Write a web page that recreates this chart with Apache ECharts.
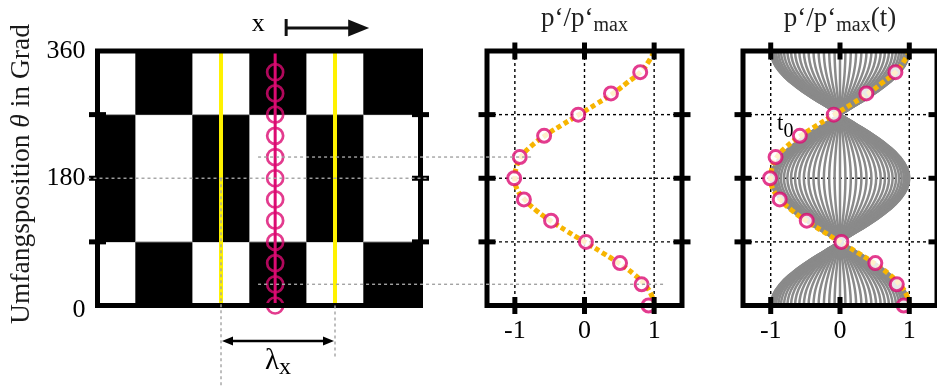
<!DOCTYPE html>
<html>
<head>
<meta charset="utf-8">
<script src="https://cdn.jsdelivr.net/npm/echarts@6/dist/echarts.min.js"></script>
<style>
  html, body { margin: 0; padding: 0; background: #fff; }
  #chart { width: 937px; height: 387px; }
</style>
</head>
<body>
<div id="chart"></div>
<script>
// ---- data -------------------------------------------------------------
// circumferential sensor positions (degrees)
const sensorTheta = [0, 30, 60, 90, 120, 150, 180, 210, 240, 270, 300, 330];
// measured normalized pressure p'/p'max at the sensors
const sensorPressure = [0.92, 0.82, 0.51, 0.02, -0.48, -0.87, -1.01, -0.93, -0.58, -0.09, 0.38, 0.80];
// fitted mode shape (every 15 degrees)
const fitTheta = [0, 15, 30, 45, 60, 75, 90, 105, 120, 135, 150, 165, 180, 195, 210, 225, 240, 255, 270, 285, 300, 315, 330, 345, 360];
const fitPressure = [1.0, 0.96, 0.86, 0.70, 0.49, 0.25, 0.0, -0.25, -0.49, -0.70, -0.86, -0.97, -1.0, -0.98, -0.91, -0.77, -0.57, -0.33, -0.08, 0.17, 0.41, 0.61, 0.80, 0.92, 1.0];
// standing-wave shape of unit amplitude (every 15 degrees)
const shapePressure = [1.0, 0.966, 0.866, 0.707, 0.5, 0.259, 0.0, -0.259, -0.5, -0.707, -0.866, -0.966, -1.0, -0.966, -0.866, -0.707, -0.5, -0.259, 0.0, 0.259, 0.5, 0.707, 0.866, 0.966, 1.0];
// instantaneous amplitudes of the snapshots over half a period
const snapshotAmplitude = [1.000, 0.997, 0.988, 0.972, 0.951, 0.924, 0.891, 0.853, 0.809, 0.760, 0.707, 0.649, 0.588, 0.522, 0.454, 0.383, 0.309, 0.233, 0.156, 0.078, 0.000,
  -0.078, -0.156, -0.233, -0.309, -0.383, -0.454, -0.522, -0.588, -0.649, -0.707, -0.760, -0.809, -0.853, -0.891, -0.924, -0.951, -0.972, -0.988, -0.997, -1.000];
// sign pattern of the pressure field: column edges in x, row edges in theta
const cellEdgesX = [-0.667, 0, 1, 2, 3, 4, 5];
const cellEdgesTheta = [0, 90, 270, 360];
const cellPositive = [
  [1, 0, 1, 0, 1, 0],
  [0, 1, 0, 1, 0, 1],
  [1, 0, 1, 0, 1, 0]
];
// axial position of the sensor row, and the two neighbouring nodal lines
const sensorLineX = 2.45;
const nodeLinesX = [1.5, 3.5];
// projection lines from the sensor row to the profile
const linkTheta = [210, 30];
const linkEndPressure = [-0.75, 1.17];
// axis ticks and labels
const thetaTicks = [90, 180, 270];
const thetaLabels = [0, 180, 360];
const pressureTicks = [-1, 0, 1];

// ---- styling ----------------------------------------------------------
const SERIF = "'Liberation Serif', 'DejaVu Serif', serif";
const MAGENTA = '#dc0a72';
const ORANGE = '#f7b500';
const GREY = '#8a8a8a';
const LINK = '#a3a3a3';

const grids = [
  { left: 97.5, top: 51, width: 323, height: 254.5 },
  { left: 487, top: 51, width: 195, height: 254.5 },
  { left: 743, top: 51, width: 197, height: 254.5 }
];
const xRanges = [[cellEdgesX[0], cellEdgesX[cellEdgesX.length - 1]], [-1.4, 1.4], [-1.4, 1.4]];

const chart = echarts.init(document.getElementById('chart'), null, { renderer: 'canvas' });

const cellData = [];
for (let r = 0; r < cellEdgesTheta.length - 1; r++) {
  for (let c = 0; c < cellEdgesX.length - 1; c++) {
    cellData.push([cellEdgesX[c], cellEdgesX[c + 1], cellEdgesTheta[r], cellEdgesTheta[r + 1], cellPositive[r][c]]);
  }
}

const series = [];
// checkerboard
series.push({
  type: 'custom', xAxisIndex: 0, yAxisIndex: 0, z: 1, silent: true,
  encode: { x: [0, 1], y: [2, 3] },
  data: cellData,
  renderItem: function (params, api) {
    const a = api.coord([api.value(0), api.value(3)]);
    const b = api.coord([api.value(1), api.value(2)]);
    const white = api.value(4) === 1;
    return {
      type: 'rect',
      shape: { x: a[0], y: a[1], width: b[0] - a[0], height: b[1] - a[1] },
      style: white ? { fill: '#fff', stroke: '#9a9a9a', lineWidth: 1 } : { fill: '#000' }
    };
  }
});
// nodal lines
nodeLinesX.forEach(function (x) {
  series.push({
    type: 'line', xAxisIndex: 0, yAxisIndex: 0, z: 3, silent: true, symbol: 'none',
    data: [[x, 0], [x, 360]],
    lineStyle: { color: '#fff200', width: 4 }
  });
});
// sensor row
series.push({
  type: 'line', xAxisIndex: 0, yAxisIndex: 0, z: 4, silent: true, symbol: 'none',
  data: [[sensorLineX, 0], [sensorLineX, 360]],
  lineStyle: { color: MAGENTA, width: 3 }
});
series.push({
  type: 'scatter', xAxisIndex: 0, yAxisIndex: 0, z: 5, silent: true,
  data: sensorTheta.map(function (t) { return [sensorLineX, t]; }),
  symbol: 'circle', symbolSize: 16,
  itemStyle: { color: 'rgba(0,0,0,0)', borderColor: MAGENTA, borderWidth: 2.7 }
});

// snapshots of the standing wave
snapshotAmplitude.forEach(function (a) {
  series.push({
    type: 'line', xAxisIndex: 2, yAxisIndex: 2, z: 2, silent: true, symbol: 'none', smooth: true,
    data: fitTheta.map(function (t, k) { return [a * shapePressure[k], t]; }),
    lineStyle: { color: GREY, width: 2.5 }
  });
});

[1, 2].forEach(function (g) {
  series.push({
    type: 'line', xAxisIndex: g, yAxisIndex: g, z: 3, silent: true, symbol: 'none', smooth: true,
    data: fitTheta.map(function (t, k) { return [fitPressure[k], t]; }),
    lineStyle: { color: ORANGE, width: 5, type: [5, 3] }
  });
  series.push({
    type: 'scatter', xAxisIndex: g, yAxisIndex: g, z: 4, silent: true,
    data: sensorTheta.map(function (t, k) { return [sensorPressure[k], t]; }),
    symbol: 'circle', symbolSize: 13,
    itemStyle: { color: '#fff', borderColor: MAGENTA, borderWidth: 3 }
  });
});

chart.setOption({
  animation: false,
  grid: grids,
  xAxis: xRanges.map(function (r, i) {
    return {
      type: 'value', gridIndex: i, min: r[0], max: r[1],
      axisLine: { show: false }, axisTick: { show: false }, splitLine: { show: false },
      axisLabel: i === 0 ? { show: false } : {
        customValues: pressureTicks,
        formatter: function (v) { return String(v); },
        fontSize: 26, fontFamily: SERIF, color: '#000', margin: 13
      }
    };
  }),
  yAxis: [0, 1, 2].map(function (i) {
    return {
      type: 'value', gridIndex: i, min: 0, max: 360,
      axisLine: { show: false }, axisTick: { show: false }, splitLine: { show: false },
      axisLabel: i === 0 ? {
        customValues: thetaLabels,
        formatter: function (v) { return v === 0 ? '{low|0}' : String(v); },
        rich: { low: { fontSize: 26, fontFamily: SERIF, color: '#000', padding: [10, 0, 0, 0] } },
        fontSize: 26, fontFamily: SERIF, color: '#000', margin: 12
      } : { show: false }
    };
  }),
  series: series
});

// ---- frames, ticks, grid lines and annotations ------------------------
function px(g, x, y) { return chart.convertToPixel({ gridIndex: g }, [x, y]); }
function seg(x1, y1, x2, y2, style, z) {
  return { type: 'line', silent: true, z: z, shape: { x1: x1, y1: y1, x2: x2, y2: y2 }, style: style };
}
// main text followed by a lowered subscript
function subRich(mainSize, subSize, drop, color) {
  return {
    a: { fontSize: mainSize, fontFamily: SERIF, fill: color, verticalAlign: 'top' },
    s: { fontSize: subSize, fontFamily: SERIF, fill: color, verticalAlign: 'top', padding: [drop, 0, 0, 0] }
  };
}

const elements = [];
const TICK = 8.5;
const frameStyle = { stroke: '#000', lineWidth: 5 };
const dotStyle = { stroke: '#000', lineWidth: 1.4, lineDash: [3, 3] };
const linkStyle = { stroke: LINK, lineWidth: 1.4, lineDash: [3, 3] };

[0, 1, 2].forEach(function (g) {
  const tl = px(g, xRanges[g][0], 360);
  const br = px(g, xRanges[g][1], 0);
  elements.push({
    type: 'rect', silent: true, z: 50,
    shape: { x: tl[0], y: tl[1], width: br[0] - tl[0], height: br[1] - tl[1] },
    style: { fill: 'none', stroke: '#000', lineWidth: 5 }
  });
  thetaTicks.forEach(function (t) {
    const y = px(g, 0, t)[1];
    elements.push(seg(tl[0] - TICK, y, tl[0] + TICK, y, frameStyle, 51));
    elements.push(seg(br[0] - TICK, y, br[0] + TICK, y, frameStyle, 51));
  });
  if (g > 0) {
    pressureTicks.forEach(function (v) {
      const x = px(g, v, 0)[0];
      elements.push(seg(x, tl[1] - TICK, x, tl[1] + TICK, frameStyle, 51));
      elements.push(seg(x, br[1] - TICK, x, br[1] + TICK, frameStyle, 51));
      elements.push(seg(x, tl[1], x, br[1], dotStyle, 1));
    });
    thetaTicks.forEach(function (t) {
      const y = px(g, 0, t)[1];
      elements.push(seg(tl[0], y, br[0], y, dotStyle, 1));
    });
  }
});

// reference line at 180 degrees across the field
(function () {
  const a = px(0, xRanges[0][0], 180), b = px(0, xRanges[0][1], 180);
  elements.push(seg(a[0] - 10, a[1], b[0] + 8, b[1], linkStyle, 52));
})();
// projection lines from the sensor row to the profile
linkTheta.forEach(function (t, k) {
  const a = px(0, sensorLineX - 0.3, t), b = px(1, linkEndPressure[k], t);
  elements.push(seg(a[0], a[1], b[0], b[1], linkStyle, 52));
});
// wavelength marker
(function () {
  const a = px(0, nodeLinesX[0], 180), a0 = px(0, nodeLinesX[0], 0), b0 = px(0, nodeLinesX[1], 0);
  elements.push(seg(a[0], a[1], a[0], 387, linkStyle, 52));
  elements.push(seg(b0[0], b0[1], b0[0], b0[1] + 53, linkStyle, 52));
  const y = a0[1] + 35.5;
  const xa = a0[0] + 1, xb = b0[0] - 1;
  elements.push(seg(xa + 6, y, xb - 6, y, { stroke: '#000', lineWidth: 2.5 }, 52));
  elements.push({ type: 'polygon', silent: true, z: 52, shape: { points: [[xa, y], [xa + 11, y - 4.5], [xa + 11, y + 4.5]] }, style: { fill: '#000' } });
  elements.push({ type: 'polygon', silent: true, z: 52, shape: { points: [[xb, y], [xb - 11, y - 4.5], [xb - 11, y + 4.5]] }, style: { fill: '#000' } });
  elements.push({
    type: 'text', silent: true, z: 52, x: (xa + xb) / 2, y: y + 6,
    style: { text: '{a|λ}{s|x}', align: 'center', verticalAlign: 'top', rich: subRich(29, 24, 9, '#000') }
  });
})();
// direction of x
(function () {
  const xm = px(0, sensorLineX, 0)[0];
  elements.push({
    type: 'text', silent: true, z: 52, x: xm - 17, y: 24,
    style: { text: 'x', fontSize: 26, fontFamily: SERIF, fill: '#000', align: 'center', verticalAlign: 'middle' }
  });
  elements.push(seg(xm + 11, 19, xm + 11, 36, { stroke: '#111', lineWidth: 3 }, 52));
  elements.push(seg(xm + 11, 28, xm + 80, 28, { stroke: '#111', lineWidth: 3 }, 52));
  elements.push({ type: 'polygon', silent: true, z: 52, shape: { points: [[xm + 94, 28], [xm + 73, 19.5], [xm + 73, 36.5]] }, style: { fill: '#111' } });
})();
// panel titles
elements.push({
  type: 'text', silent: true, z: 52, x: px(1, 0, 0)[0], y: 5,
  style: { text: '{a|p‘/p‘}{s|max}', align: 'center', verticalAlign: 'top', rich: subRich(27, 20, 11, '#222') }
});
elements.push({
  type: 'text', silent: true, z: 52, x: px(2, 0, 0)[0], y: 5,
  style: { text: '{a|p‘/p‘}{s|max}{a|(t)}', align: 'center', verticalAlign: 'top', rich: subRich(27, 20, 11, '#222') }
});
// time marker
(function () {
  const p = px(2, -0.79, 253);
  elements.push({
    type: 'text', silent: true, z: 52, x: p[0], y: p[1] - 14,
    style: { text: '{a|t}{s|0}', align: 'center', verticalAlign: 'top', rich: subRich(23, 20, 9, '#000') }
  });
})();
// vertical axis title
elements.push({
  type: 'text', silent: true, z: 52, x: 22, y: 174, rotation: Math.PI / 2,
  style: {
    text: '{n|Umfangsposition }{i|θ}{n| in Grad}', align: 'center', verticalAlign: 'middle',
    rich: {
      n: { fontSize: 27.5, fontFamily: SERIF, fill: '#1a1a1a' },
      i: { fontSize: 27.5, fontFamily: SERIF, fontStyle: 'italic', fill: '#1a1a1a' }
    }
  }
});

chart.setOption({ graphic: { elements: elements } });
</script>
</body>
</html>
